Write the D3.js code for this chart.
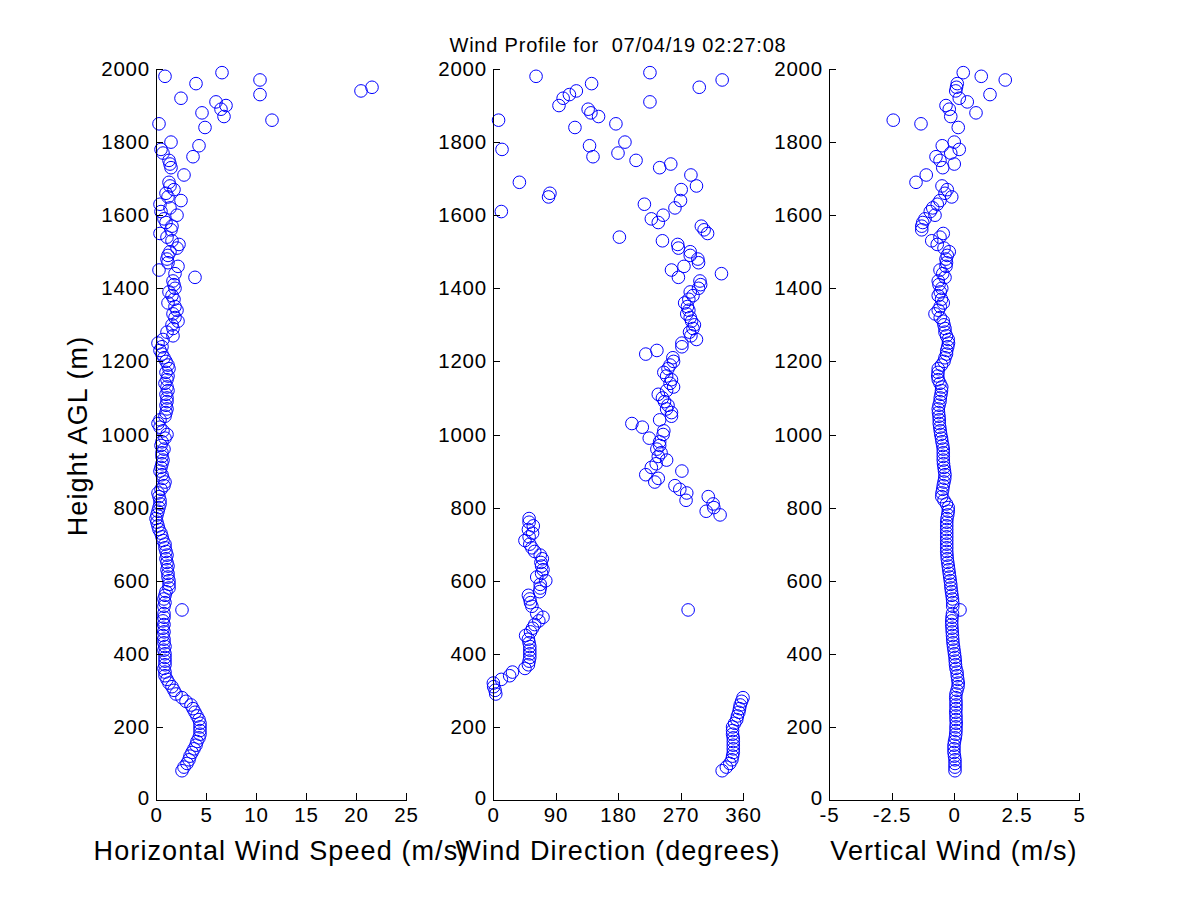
<!DOCTYPE html>
<html>
<head>
<meta charset="utf-8">
<script src="https://cdn.jsdelivr.net/npm/d3@7"></script>
<style>
  html, body { margin: 0; padding: 0; background: #fff; }
  svg { display: block; }
  text { font-family: "Liberation Sans", Arial, Helvetica, sans-serif; }
</style>
</head>
<body>
<svg id="chart" width="1200" height="900"></svg>
<script>
// ---------------- data ----------------
const heights = [80, 90,
  100, 110, 120, 130, 140, 150, 160, 170, 180, 190,
  200, 210, 220, 230, 240, 250, 260, 270, 280, 290,
  300, 310, 320, 330, 340, 350, 360, 370, 380, 390,
  400, 410, 420, 430, 440, 450, 460, 470, 480, 490,
  500, 510, 520, 530, 540, 550, 560, 570, 580, 590,
  600, 610, 620, 630, 640, 650, 660, 670, 680, 690,
  700, 710, 720, 730, 740, 750, 760, 770, 780, 790,
  800, 810, 820, 830, 840, 850, 860, 870, 880, 890,
  900, 910, 920, 930, 940, 950, 960, 970, 980, 990,
  1000, 1010, 1020, 1030, 1040, 1050, 1060, 1070, 1080, 1090,
  1100, 1110, 1120, 1130, 1140, 1150, 1160, 1170, 1180, 1190,
  1200, 1210, 1220, 1230, 1240, 1250, 1260, 1270, 1280, 1290,
  1300, 1310, 1320, 1330, 1340, 1350, 1360, 1370, 1380, 1390,
  1400, 1410, 1420, 1430, 1440, 1450, 1460, 1470, 1480, 1490,
  1500, 1510, 1520, 1530, 1540, 1550, 1560, 1570, 1580, 1590,
  1600, 1610, 1620, 1630, 1640, 1650, 1660, 1670, 1680, 1690,
  1700, 1710, 1720, 1730, 1740, 1750, 1760, 1770, 1780, 1790,
  1800, 1810, 1820, 1830, 1840, 1850, 1860, 1870, 1880, 1890,
  1900, 1910, 1920, 1930, 1940, 1950, 1960, 1970, 1980, 1990];

const windSpeed = [2.6, 2.8,
  3.1, 3.3, 3.4, 3.6, 3.8, 4.0, 4.1, 4.3, 4.4, 4.4,
  4.4, 4.4, 4.3, 4.1, 3.9, 3.7, 3.5, 3.0, 2.6, 2.0,
  1.8, 1.6, 1.3, 1.1, 0.9, 0.9, 0.8, 0.9, 0.9, 0.9,
  0.9, 0.8, 0.9, 0.8, 0.8, 0.7, 0.8, 0.7, 0.8, 0.7,
  0.8, 0.8, 2.6, 0.8, 0.9, 0.8, 0.9, 1.0, 1.3, 1.3,
  1.3, 1.2, 1.2, 1.1, 1.2, 1.1, 1.0, 1.1, 1.0, 0.9,
  0.9, 0.7, 0.6, 0.5, 0.3, 0.2, 0.1, 0.0, 0.1, 0.2,
  0.3, 0.4, 0.4, 0.3, 0.2, 0.5, 0.8, 0.9, 0.7, 0.6,
  0.4, 0.5, 0.6, 0.7, 0.6, 0.6, 0.8, 0.5, 0.6, 0.9,
  1.1, 0.7, 0.4, 0.2, 0.4, 0.9, 1.0, 1.1, 1.0, 1.1,
  1.1, 1.0, 1.2, 1.1, 0.9, 1.1, 1.2, 1.0, 1.3, 1.2,
  1.0, 0.8, 0.6, 0.4, 0.6, 0.2, 0.7, 1.7, 1.1, 1.7,
  1.6, 2.2, 1.9, 1.7, 2.1, 1.9, 1.2, 1.8, 1.6, 1.3,
  1.9, 1.8, 1.7, 3.9, 1.9, 0.3, 2.2, 1.2, 1.1, 1.2,
  1.4, 2.1, 2.3, 1.6, 1.1, 0.4, 1.5, 1.6, 1.0, 0.8,
  2.1, 0.5, 1.4, 0.4, 2.5, 1.2, 1.0, 1.8, 1.4, 1.3,
  null, 2.8, null, 1.5, 1.4, 1.3, 3.7, 0.7, 0.5, 4.3,
  1.5, null, null, null, 4.9, 0.3, 11.6, 6.8, 4.6, 6.5,
  7.0, 6.0, 2.5, 10.4, 20.5, 21.6, 4.0, 10.4, 0.9, 6.6];

const windDirection = [330, 336,
  341, 344, 345, 346, 346, 346, 346, 346, 345, 345,
  345, 348, 351, 352, 354, 355, 356, 358, 360, 4,
  3, 1, 0.5, 12, 24, 28, 46, 51, 52, 53,
  53, 53, 53, 52, 51, 47, 54, 57, 60, 66,
  72, 63, 281, 56, 54, 53, 51, 67, 68, 68,
  76, 63, 70, 72, 70, 69, 71, 68, 60, 56,
  53, 46, 52, 57, 51, 58, 52, 52, 327, 307,
  318, 317, 278, 310, 279, 269, 262, 233, 238, 220,
  272, 228, 235, 250, 238, 242, 236, 240, 240, 225,
  245, 246, 215, 200, 240, 257, 257, 250, 252, 247,
  244, 238, 250, 260, 255, 257, 250, 246, 252, 255,
  260, 259, 220, 236, 272, 272, 293, 285, 283, 288,
  290, 286, 284, 279, 282, 280, 276, 282, 288, 284,
  296, 299, 298, 267, 329, 257, 275, 296, 295, 284,
  284, 267, 266, 244, 182, 309, 304, 300, 238, 228,
  245, 12, 262, 218, 270, 80, 82, 271, 293, 38,
  null, 285, null, 240, 256, 206, 144, 180, 13, 139,
  190, null, null, null, 118, 177, 8, 152, 141, 137,
  95, 226, 101, 110, 120, 297, 142, 330, 62, 226];

const verticalWind = [0.04, 0.04,
  0.04, 0.04, 0.02, 0.0, 0.0, 0.0, 0.02, 0.05, 0.07, 0.08,
  0.08, 0.09, 0.08, 0.08, 0.07, 0.08, 0.08, 0.08, 0.07, 0.08,
  0.12, 0.16, 0.17, 0.15, 0.13, 0.12, 0.08, 0.06, 0.05, 0.04,
  0.02, 0.0, -0.02, -0.04, -0.05, -0.06, -0.07, -0.08, -0.09, -0.09,
  -0.08, -0.06, 0.24, -0.05, -0.05, -0.06, -0.08, -0.1, -0.12, -0.13,
  -0.15, -0.17, -0.19, -0.21, -0.23, -0.25, -0.27, -0.28, -0.29, -0.29,
  -0.29, -0.29, -0.29, -0.29, -0.29, -0.29, -0.29, -0.28, -0.25, -0.23,
  -0.23, -0.3, -0.4, -0.49, -0.48, -0.45, -0.43, -0.4, -0.37, -0.36,
  -0.38, -0.4, -0.42, -0.43, -0.43, -0.43, -0.43, -0.45, -0.48, -0.5,
  -0.53, -0.55, -0.57, -0.59, -0.59, -0.6, -0.62, -0.63, -0.6, -0.56,
  -0.55, -0.52, -0.5, -0.49, -0.56, -0.63, -0.65, -0.64, -0.63, -0.5,
  -0.4, -0.36, -0.3, -0.29, -0.25, -0.22, -0.23, -0.3, -0.36, -0.36,
  -0.4, -0.43, -0.55, -0.76, -0.63, -0.55, -0.43, -0.5, -0.63, -0.55,
  -0.49, -0.6, -0.63, -0.36, -0.45, -0.56, -0.32, -0.3, -0.32, -0.27,
  -0.19, -0.4, -0.67, -0.89, -0.56, -0.43, -1.29, -1.29, -1.25, -1.16,
  -0.76, -0.95, -0.85, -0.67, -0.56, -0.09, -0.36, -0.27, -0.48, -1.52,
  null, -1.11, null, -0.45, 0.01, -0.56, -0.72, -0.13, 0.21, -0.47,
  0.01, null, null, null, 0.17, -1.32, -2.43, -0.13, 0.88, -0.19,
  -0.32, 0.53, 0.21, 1.44, 0.07, 0.1, 0.13, 2.05, 1.09, 0.37];

const heightTicks = [0, 200, 400, 600, 800, 1000, 1200, 1400, 1600, 1800, 2000];
const speedTicks = [0, 5, 10, 15, 20, 25];
const directionTicks = [0, 90, 180, 270, 360];
const verticalTicks = [-5, -2.5, 0, 2.5, 5];

const titleText = "Wind Profile for  07/04/19 02:27:08";
const yLabel = "Height AGL (m)";

const panels = [
  { values: windSpeed, domain: [0, 25], ticks: speedTicks, left: 156, label: "Horizontal Wind Speed (m/s)", fmt: d => String(d) },
  { values: windDirection, domain: [0, 360], ticks: directionTicks, left: 493, label: "Wind Direction (degrees)", fmt: d => String(d) },
  { values: verticalWind, domain: [-5, 5], ticks: verticalTicks, left: 829, label: "Vertical Wind (m/s)", fmt: d => String(d) }
];

// ---------------- layout ----------------
const svg = d3.select("#chart");
svg.append("rect").attr("width", 1200).attr("height", 900).attr("fill", "#fff");

const plotTop = 69, plotBottom = 800, plotWidth = 250;
const FONT = '"Liberation Sans", Arial, Helvetica, sans-serif';

const y = d3.scaleLinear().domain([0, 2000]).range([plotBottom, plotTop]);

panels.forEach(p => {
  const x = d3.scaleLinear().domain(p.domain).range([p.left, p.left + plotWidth]);
  const g = svg.append("g");

  // points
  const pts = heights.map((h, i) => ({ h, v: p.values[i] })).filter(d => d.v !== null);
  g.append("g").selectAll("circle").data(pts).join("circle")
    .attr("cx", d => x(d.v))
    .attr("cy", d => y(d.h))
    .attr("r", 6.3)
    .attr("fill", "none")
    .attr("stroke", "#0000ff")
    .attr("stroke-width", 1);

  // y axis
  const ya = g.append("g")
    .attr("transform", `translate(${p.left},0)`)
    .call(d3.axisLeft(y).tickValues(heightTicks).tickFormat(d3.format("d"))
      .tickSizeInner(-7).tickSizeOuter(0).tickPadding(6));
  // x axis
  const xa = g.append("g")
    .attr("transform", `translate(0,${plotBottom})`)
    .call(d3.axisBottom(x).tickValues(p.ticks).tickFormat(p.fmt)
      .tickSizeInner(-7).tickSizeOuter(0).tickPadding(7));

  [ya, xa].forEach(a => {
    a.attr("font-family", FONT).attr("font-size", 20.5);
    a.select(".domain").attr("stroke", "#000").attr("stroke-width", 1).attr("shape-rendering", "crispEdges");
    a.selectAll(".tick line").attr("stroke", "#000").attr("shape-rendering", "crispEdges");
    a.selectAll(".tick text").attr("fill", "#000").attr("letter-spacing", "0.8px");
  });
  // keep the bottom "0" of the height axis clear of the x tick labels
  ya.selectAll(".tick text").filter(d => d === 0).attr("dy", "0.2em");

  // x label
  svg.append("text")
    .attr("x", p.left + plotWidth / 2)
    .attr("y", 860)
    .attr("text-anchor", "middle")
    .attr("font-size", 27)
    .attr("letter-spacing", "1.1px")
    .attr("fill", "#000")
    .text(p.label);
});

// title (keeps the double space)
svg.append("text")
  .attr("x", 618)
  .attr("y", 52)
  .attr("text-anchor", "middle")
  .attr("font-size", 20)
  .attr("letter-spacing", "0.8px")
  .attr("fill", "#000")
  .style("white-space", "pre")
  .attr("xml:space", "preserve")
  .text(titleText);

// y label
svg.append("text")
  .attr("transform", "translate(87,436) rotate(-90)")
  .attr("text-anchor", "middle")
  .attr("font-size", 27)
  .attr("letter-spacing", "1.1px")
  .attr("fill", "#000")
  .text(yLabel);
</script>
</body>
</html>
